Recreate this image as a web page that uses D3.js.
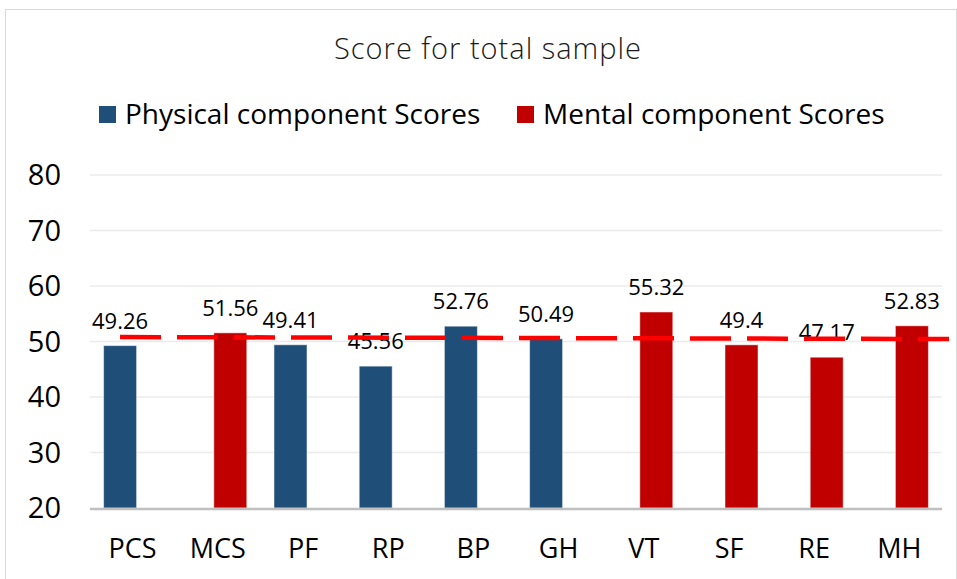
<!DOCTYPE html>
<html>
<head>
    <meta charset="utf-8">
    <title>Score for total sample</title>
    <script src="https://d3js.org/d3.v7.min.js"></script>
    <style>
        body { margin: 0; background: #fff; font-family: "Open Sans", sans-serif; }
    </style>
</head>
<body>
    <div id="chart"></div>
    <script>
        // data
        var categories = ["PCS", "MCS", "PF", "RP", "BP", "GH", "VT", "SF", "RE", "MH"];
        var physical = [49.26, null, 49.41, 45.56, 52.76, 50.49, null, null, null, null];
        var mental = [null, 51.56, null, null, null, null, 55.32, 49.4, 47.17, 52.83];
        var refLine = [50.8, 50.45];
        var yTicks = [20, 30, 40, 50, 60, 70, 80];
        var seriesNames = ["Physical component Scores", "Mental component Scores"];
        var seriesColors = ["#1f4e79", "#c00000"];

        var width = 957, height = 579;
        var plot = { left: 90, right: 942, top: 175, bottom: 508 };

        var svg = d3.select("#chart").append("svg")
            .attr("width", width)
            .attr("height", height);

        // chart frame
        svg.append("rect")
            .attr("x", 5.5).attr("y", 9.5)
            .attr("width", width - 6).attr("height", height - 5)
            .attr("fill", "#fff")
            .attr("stroke", "#d9d9d9");

        var x = d3.scaleBand().domain(categories).range([plot.left, plot.right]);
        var y = d3.scaleLinear().domain([20, 80]).range([plot.bottom, plot.top]);

        // gridlines
        svg.selectAll(".grid")
            .data(yTicks.slice(1))
            .enter().append("line")
            .attr("x1", plot.left).attr("x2", plot.right)
            .attr("y1", function(d) { return y(d); })
            .attr("y2", function(d) { return y(d); })
            .attr("stroke", "#ebebeb")
            .attr("stroke-width", 1.5);

        // y tick labels
        svg.selectAll(".ytick")
            .data(yTicks)
            .enter().append("text")
            .attr("x", 61)
            .attr("y", function(d) { return y(d); })
            .attr("dy", "0.36em")
            .attr("text-anchor", "end")
            .style("font-size", "29px")
            .attr("fill", "#000")
            .text(function(d) { return d; });

        // bars: two series, overlapping clusters like the original
        var barW = 33, shift = 12.5;
        var series = [physical, mental];
        series.forEach(function(vals, si) {
            var rows = categories.map(function(c, i) { return { cat: c, v: vals[i] }; })
                .filter(function(d) { return d.v != null; });
            var cx = function(d) { return x(d.cat) + x.bandwidth() / 2 + (si === 0 ? -shift : shift); };

            svg.selectAll(".bar" + si)
                .data(rows)
                .enter().append("rect")
                .attr("x", function(d) { return cx(d) - barW / 2; })
                .attr("y", function(d) { return y(d.v); })
                .attr("width", barW)
                .attr("height", function(d) { return y(20) - y(d.v); })
                .attr("fill", seriesColors[si])
                .attr("stroke", "rgba(255,255,255,0.5)")
                .attr("stroke-width", 1);

            svg.selectAll(".lab" + si)
                .data(rows)
                .enter().append("text")
                .attr("x", cx)
                .attr("y", function(d) { return y(d.v) - 17; })
                .attr("text-anchor", "middle")
                .style("font-size", "22px")
                .attr("fill", "#000")
                .text(function(d) { return d.v; });
        });

        // axis baseline
        svg.append("line")
            .attr("x1", plot.left).attr("x2", plot.right)
            .attr("y1", y(20) + 1).attr("y2", y(20) + 1)
            .attr("stroke", "#bfbfbf")
            .attr("stroke-width", 2.5);

        // x labels
        svg.selectAll(".xlab")
            .data(categories)
            .enter().append("text")
            .attr("x", function(d) { return x(d) + x.bandwidth() / 2; })
            .attr("y", 558)
            .attr("text-anchor", "middle")
            .style("font-size", "27px")
            .attr("fill", "#000")
            .text(function(d) { return d; });

        // red dashed reference line, drawn on top
        var xr = d3.scalePoint().domain([0, 1]).range([120, 949]);
        svg.append("path")
            .datum(refLine)
            .attr("d", d3.line()
                .x(function(d, i) { return xr(i); })
                .y(function(d) { return y(d); }))
            .attr("fill", "none")
            .attr("stroke", "#ff0000")
            .attr("stroke-width", 4.5)
            .attr("stroke-dasharray", "41,16");

        // title
        svg.append("text")
            .attr("x", 488).attr("y", 59)
            .attr("text-anchor", "middle")
            .style("font-size", "29px")
            .style("font-weight", 300)
            .style("letter-spacing", "1px")
            .attr("fill", "#1a1a1a")
            .text("Score for total sample");

        // legend
        var legendX = [99, 517];
        seriesNames.forEach(function(name, i) {
            svg.append("rect")
                .attr("x", legendX[i]).attr("y", 106)
                .attr("width", 17).attr("height", 17)
                .attr("fill", seriesColors[i]);
            svg.append("text")
                .attr("x", legendX[i] + 26).attr("y", 124)
                .style("font-size", "28px")
                .attr("fill", "#000")
                .text(name);
        });
    </script>
</body>
</html>
